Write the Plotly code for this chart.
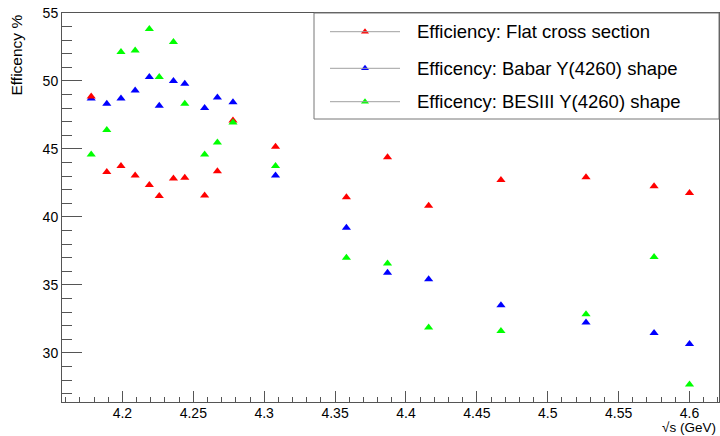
import plotly.graph_objects as go

# ---- data ----
energy = [4.178, 4.189, 4.199, 4.209, 4.219, 4.226, 4.236, 4.244, 4.258, 4.267,
          4.278, 4.308, 4.358, 4.387, 4.416, 4.467, 4.527, 4.575, 4.600]
eff_flat = [48.86, 43.31, 43.75, 43.04, 42.35, 41.54, 42.82, 42.89, 41.57, 43.36,
            47.09, 45.17, 41.45, 44.39, 40.83, 42.72, 42.92, 42.26, 41.76]
eff_babar = [48.72, 48.32, 48.71, 49.30, 50.29, 48.17, 49.99, 49.79, 48.02, 48.78,
             48.44, 43.04, 39.21, 35.89, 35.41, 33.51, 32.24, 31.47, 30.66]
eff_besiii = [44.59, 46.40, 52.13, 52.25, 53.82, 50.29, 52.86, 48.32, 44.59, 45.47,
              46.94, 43.75, 37.00, 36.58, 31.87, 31.62, 32.85, 37.05, 27.67]

series_names = ["Efficiency: Flat cross section",
                "Efficency: Babar Y(4260) shape",
                "Efficency: BESIII Y(4260) shape"]
series_colors = ["#ff0000", "#0000ff", "#00ff00"]

x_tick_vals = [4.2, 4.25, 4.3, 4.35, 4.4, 4.45, 4.5, 4.55, 4.6]
x_tick_text = ["4.2", "4.25", "4.3", "4.35", "4.4", "4.45", "4.5", "4.55", "4.6"]
y_tick_vals = [30, 35, 40, 45, 50, 55]
y_tick_text = ["30", "35", "40", "45", "50", "55"]

x_range = [4.1574, 4.6208]
y_range = [26.39, 55.0]

x_title = "√s (GeV)"
y_title = "Efficency %"

FONT = "Liberation Sans, Arial, Helvetica, sans-serif"
AXC = "#555555"
MSIZE = 8

fig = go.Figure()

series = [eff_flat, eff_babar, eff_besiii]
# draw order: blue, red, green
for idx in [1, 0, 2]:
    fig.add_trace(go.Scatter(
        x=energy, y=series[idx], mode="markers",
        marker=dict(symbol="triangle-up", size=MSIZE, color=series_colors[idx],
                    line=dict(width=0)),
        showlegend=False, name=series_names[idx]))

# ---- manual legend (paper-like overlay axes) ----
W, H = 720, 436
L, R, T, B = 62, 1, 13, 34
pw, ph = W - L - R, H - T - B

def px_x(p):
    return (p - L) / pw

def px_y(p):
    return (H - B - p) / ph

leg_rows = [31.7, 68.3, 101.7]
for i, name in enumerate(series_names):
    yy = px_y(leg_rows[i])
    fig.add_shape(type="line", xref="paper", yref="paper",
                  x0=px_x(330), x1=px_x(400), y0=yy, y1=yy,
                  line=dict(color="#a0a0a0", width=1))
    fig.add_trace(go.Scatter(
        x=[px_x(365)], y=[yy], mode="markers", xaxis="x2", yaxis="y2",
        marker=dict(symbol="triangle-up", size=MSIZE - 1, color=series_colors[i],
                    line=dict(width=0)),
        showlegend=False, hoverinfo="skip"))
    fig.add_annotation(xref="paper", yref="paper", x=px_x(415), y=yy,
                       xanchor="left", yanchor="middle", showarrow=False,
                       text=name, font=dict(family=FONT, size=18.5, color="black"))

fig.add_shape(type="rect", xref="paper", yref="paper",
              x0=px_x(314), x1=1, y0=px_y(119), y1=1,
              line=dict(color="#777777", width=1), fillcolor="rgba(0,0,0,0)")

# axis titles
fig.add_annotation(xref="paper", yref="paper", x=px_x(717), y=px_y(436),
                   xanchor="right", yanchor="bottom", showarrow=False,
                   borderpad=0,
                   text=x_title, font=dict(family=FONT, size=13.5, color="black"))
fig.add_annotation(xref="paper", yref="paper", x=px_x(16), y=1.0,
                   xanchor="center", yanchor="top", showarrow=False, textangle=-90,
                   text=y_title, font=dict(family=FONT, size=15.5, color="black"))

fig.update_layout(
    width=W, height=H,
    margin=dict(l=L, r=R, t=T, b=B, pad=0),
    paper_bgcolor="white", plot_bgcolor="white",
    font=dict(family=FONT, size=14, color="black"),
    xaxis=dict(range=x_range, showgrid=False, zeroline=False,
               showline=True, linecolor=AXC, linewidth=1, mirror=True,
               ticks="inside", ticklen=11, tickcolor=AXC, tickwidth=1,
               tickvals=x_tick_vals, ticktext=x_tick_text, ticklabelstandoff=-2,
               tickfont=dict(family=FONT, size=14, color="black"),
               minor=dict(dtick=0.01, tick0=4.2, ticks="inside", ticklen=5.5,
                          tickcolor=AXC, tickwidth=1, showgrid=False)),
    yaxis=dict(range=y_range, showgrid=False, zeroline=False,
               showline=True, linecolor=AXC, linewidth=1, mirror=True,
               ticks="inside", ticklen=20, tickcolor=AXC, tickwidth=1,
               tickvals=y_tick_vals, ticktext=y_tick_text,
               tickfont=dict(family=FONT, size=14, color="black"),
               minor=dict(dtick=1, tick0=30, ticks="inside", ticklen=10,
                          tickcolor=AXC, tickwidth=1, showgrid=False)),
    xaxis2=dict(range=[0, 1], overlaying="x", visible=False, fixedrange=True),
    yaxis2=dict(range=[0, 1], overlaying="y", visible=False, fixedrange=True),
    showlegend=False,
)

fig.write_html("out.html")
